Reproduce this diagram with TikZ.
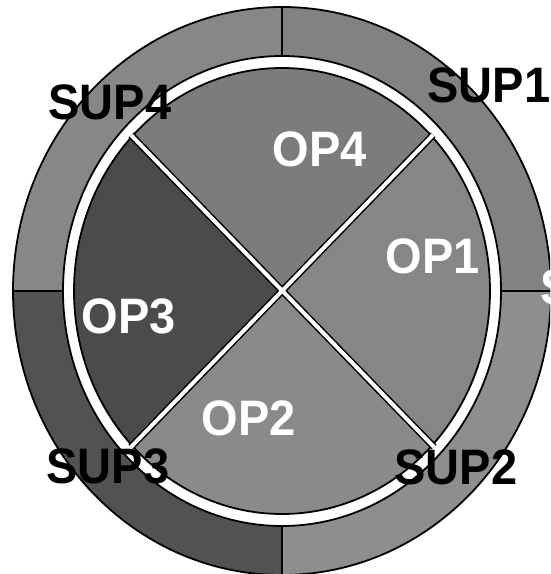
\documentclass[tikz,border=0pt]{standalone}
\usepackage{fontspec}
\setmainfont{Liberation Sans}
% band and sector greys
\definecolor{bandTL}{HTML}{878787}
\definecolor{bandTR}{HTML}{828282}
\definecolor{bandBL}{HTML}{525252}
\definecolor{bandBR}{HTML}{8E8E8E}
\definecolor{secOPa}{HTML}{868686}
\definecolor{secOPb}{HTML}{8A8A8A}
\definecolor{secOPc}{HTML}{4B4B4B}
\definecolor{secOPd}{HTML}{7C7C7C}
\begin{document}
\begin{tikzpicture}[x=1pt,y=-1pt,
  outline/.style={draw=black,line width=1.8pt},
  lbl/.style={inner sep=0pt,font=\fontsize{47}{47}\selectfont\bfseries},
  suplbl/.style={lbl,text=black},
  oplbl/.style={lbl,text=white},
  spoke/.style={line width=7pt,draw=black},
  spokefill/.style={line width=4pt,draw=white}]
\useasboundingbox (0,0) rectangle (550,574);
\clip (0,0) rectangle (550,574);
\fill[white] (0,0) rectangle (550,574);

\coordinate (c) at (282,291);

% outer supplier band, one grey per quadrant
\begin{scope}\clip (c) rectangle (-10,-10);
  \fill[bandTL] (c) ellipse [x radius=269pt,y radius=284pt];\end{scope}
\begin{scope}\clip (c) rectangle (600,-10);
  \fill[bandTR] (c) ellipse [x radius=269pt,y radius=284pt];\end{scope}
\begin{scope}\clip (c) rectangle (-10,600);
  \fill[bandBL] (c) ellipse [x radius=269pt,y radius=284pt];\end{scope}
\begin{scope}\clip (c) rectangle (600,600);
  \fill[bandBR] (c) ellipse [x radius=269pt,y radius=284pt];\end{scope}
\draw[outline] (c) ellipse [x radius=269pt,y radius=284pt];

% quadrant dividers of the band
\coordinate (vt) at (282,7);
\coordinate (vb) at (282,576);
\coordinate (hl) at (13,291);
\coordinate (hr) at (552,291);
\draw[outline] (vt) -- (vb);
\draw[outline] (hl) -- (hr);

% white ring
\fill[white,outline] (c) ellipse [x radius=219pt,y radius=235pt];

% operation sectors
\coordinate (dTL) at (131,135);
\coordinate (dTR) at (433,135);
\coordinate (dBR) at (434,447);
\coordinate (dBL) at (131,447);
\coordinate (fTL) at (-20,-20);
\coordinate (fTR) at (584,-20);
\coordinate (fBR) at (584,602);
\coordinate (fBL) at (-20,602);
\begin{scope}\clip (c) -- (fTL) -- (fTR) -- cycle;
  \fill[secOPd] (c) ellipse [x radius=208pt,y radius=223pt];\end{scope}
\begin{scope}\clip (c) -- (fTR) -- (fBR) -- cycle;
  \fill[secOPa] (c) ellipse [x radius=208pt,y radius=223pt];\end{scope}
\begin{scope}\clip (c) -- (fBR) -- (fBL) -- cycle;
  \fill[secOPb] (c) ellipse [x radius=208pt,y radius=223pt];\end{scope}
\begin{scope}\clip (c) -- (fBL) -- (fTL) -- cycle;
  \fill[secOPc] (c) ellipse [x radius=208pt,y radius=223pt];\end{scope}
\draw[outline] (c) ellipse [x radius=208pt,y radius=223pt];

% white spokes between the sectors
\draw[spoke] (dTL) -- (dBR);
\draw[spoke] (dTR) -- (dBL);
\draw[spokefill] (dTL) -- (dBR);
\draw[spokefill] (dTR) -- (dBL);

% labels
\node[oplbl] (op4) at (320,149) {\scalebox{1}[1.06]{OP4}};
\node[oplbl] (op1) at (433,256) {\scalebox{1}[1.06]{OP1}};
\node[oplbl] (op3) at (129,316) {\scalebox{1}[1.06]{OP3}};
\node[oplbl] (op2) at (249,418) {\scalebox{1}[1.06]{OP2}};
\node[suplbl] (sup1) at (489,85) {\scalebox{1}[1.06]{SUP1}};
\node[suplbl] (sup4) at (110,102) {\scalebox{1}[1.06]{SUP4}};
\node[suplbl] (sup3) at (108,466) {\scalebox{1}[1.06]{SUP3}};
\node[suplbl] (sup2) at (456,467) {\scalebox{1}[1.06]{SUP2}};
\node[oplbl,anchor=west] (sup5) at (540,287) {\scalebox{1}[1.06]{S}};
\end{tikzpicture}
\end{document}
